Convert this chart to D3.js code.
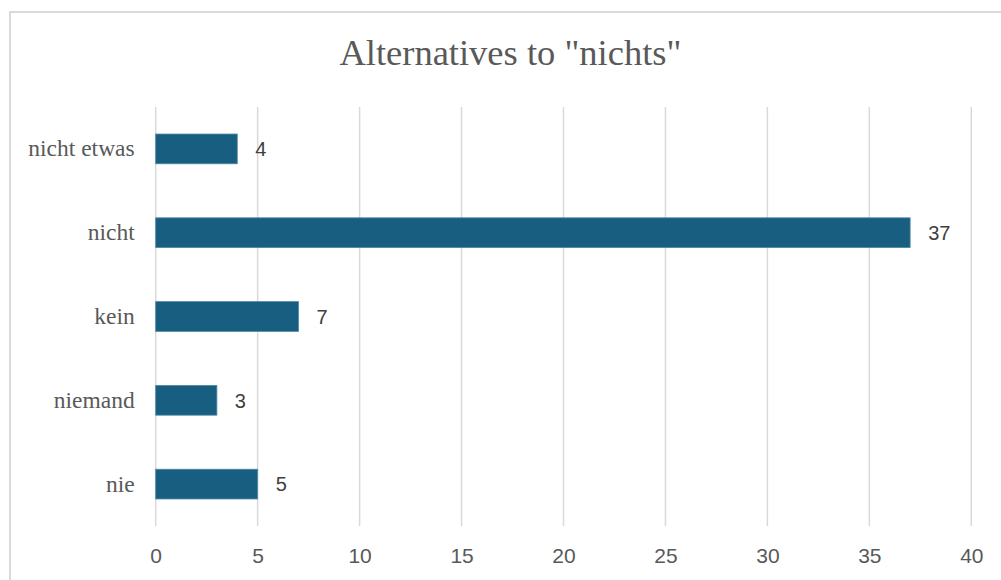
<!DOCTYPE html>
<html>
<head>
<meta charset="utf-8">
<script src="https://cdn.jsdelivr.net/npm/d3@7"></script>
<style>
html,body{margin:0;padding:0;background:#fff;}
svg{display:block;}
</style>
</head>
<body>
<svg id="chart" width="1001" height="580"></svg>
<script>
const categories = ["nicht etwas", "nicht", "kein", "niemand", "nie"];
const values = [4, 37, 7, 3, 5];
const xTicks = [0, 5, 10, 15, 20, 25, 30, 35, 40];
const title = 'Alternatives to "nichts"';

const svg = d3.select("#chart");
const plot = {left: 155.7, right: 971.3, top: 107, bottom: 526};

svg.append("rect").attr("x", 10).attr("y", 12).attr("width", 1100).attr("height", 700)
  .attr("fill", "#fff").attr("stroke", "#d9d9d9").attr("stroke-width", 2);

const x = d3.scaleLinear().domain([0, 40]).range([plot.left, plot.right]);
const y = d3.scaleBand().domain(categories).range([plot.top, plot.bottom])
  .paddingInner(0.645).paddingOuter(0.3225);

// gridlines
svg.append("g").selectAll("line").data(xTicks).join("line")
  .attr("x1", d => x(d)).attr("x2", d => x(d))
  .attr("y1", plot.top).attr("y2", plot.bottom)
  .attr("stroke", "#d9d9d9").attr("stroke-width", 1.5);

// x axis labels
const xAxis = d3.axisBottom(x).tickValues(xTicks).tickSize(0).tickPadding(0);
const gx = svg.append("g").attr("transform", `translate(0,${plot.bottom})`).call(xAxis);
gx.select(".domain").remove();
gx.selectAll("text").attr("dy", null).attr("y", 37)
  .attr("font-family", "'Liberation Sans', Arial, sans-serif").attr("font-size", 21).attr("fill", "#595959");

// y axis labels
const yAxis = d3.axisLeft(y).tickSize(0).tickPadding(0);
const gy = svg.append("g").attr("transform", `translate(${plot.left - 21},0)`).call(yAxis);
gy.select(".domain").remove();
gy.selectAll("text").attr("dy", "0.32em")
  .attr("font-family", "'Liberation Serif', 'Times New Roman', serif").attr("font-size", 23.5).attr("fill", "#595959");

// bars
const data = categories.map((c, i) => ({c, v: values[i]}));
svg.append("g").selectAll("rect").data(data).join("rect")
  .attr("x", x(0)).attr("y", d => y(d.c))
  .attr("width", d => x(d.v) - x(0)).attr("height", y.bandwidth())
  .attr("fill", "#175e80").attr("stroke", "#4f87a3").attr("stroke-width", 0.8);

// value labels
svg.append("g").selectAll("text").data(data).join("text")
  .attr("x", d => x(d.v) + 18).attr("y", d => y(d.c) + y.bandwidth() / 2)
  .attr("dy", "0.36em")
  .attr("font-family", "'Liberation Sans', Arial, sans-serif").attr("font-size", 20).attr("fill", "#404040")
  .text(d => d.v);

// title
svg.append("text").attr("x", 510.4).attr("y", 64.5).attr("text-anchor", "middle")
  .attr("font-family", "'Liberation Serif', 'Times New Roman', serif").attr("font-size", 36.5).attr("fill", "#595959")
  .text(title);
</script>
</body>
</html>
